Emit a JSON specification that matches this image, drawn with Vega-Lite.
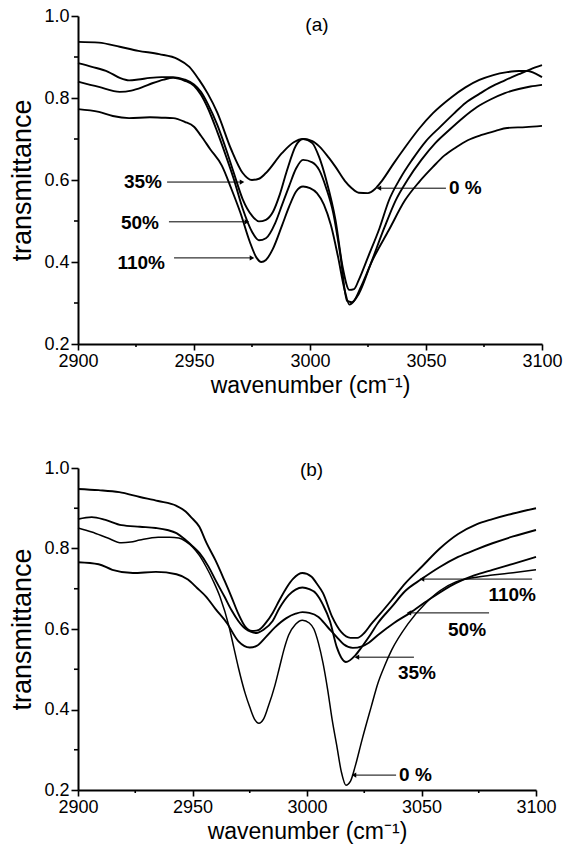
{
  "$schema": "https://vega.github.io/schema/vega-lite/v6.json",
  "padding": {"left": 8, "top": 6, "right": 5, "bottom": 5},
  "spacing": 60,
  "config": {
    "view": {"stroke": "transparent"},
    "font": "Liberation Sans",
    "axis": {"grid": false, "labelFlush": false, "domain": true, "ticks": true, "domainColor": "#000000", "tickColor": "#000000", "domainWidth": 2, "tickWidth": 1.6, "labelColor": "black", "labelFont": "Liberation Sans", "labelFontSize": 18, "titleColor": "black", "titleFont": "Liberation Sans", "titleFontWeight": "normal", "labelOverlap": false, "labelPadding": 2}
  },
  "datasets": {
    "a_lines": [
      {"s":"0%","x":2900,"y":0.937},{"s":"0%","x":2909,"y":0.935},{"s":"0%","x":2918,"y":0.925},{"s":"0%","x":2926,"y":0.915},{"s":"0%","x":2935,"y":0.907},{"s":"0%","x":2943,"y":0.895},{"s":"0%","x":2948,"y":0.876},{"s":"0%","x":2952,"y":0.846},{"s":"0%","x":2956,"y":0.81},{"s":"0%","x":2960,"y":0.765},{"s":"0%","x":2966,"y":0.675},{"s":"0%","x":2971,"y":0.617},{"s":"0%","x":2975,"y":0.6},{"s":"0%","x":2978,"y":0.603},{"s":"0%","x":2981,"y":0.617},{"s":"0%","x":2988,"y":0.666},{"s":"0%","x":2993,"y":0.692},{"s":"0%","x":2997,"y":0.7},{"s":"0%","x":3001,"y":0.695},{"s":"0%","x":3004,"y":0.682},{"s":"0%","x":3008,"y":0.655},{"s":"0%","x":3011,"y":0.632},{"s":"0%","x":3015,"y":0.598},{"s":"0%","x":3018,"y":0.58},{"s":"0%","x":3021,"y":0.569},{"s":"0%","x":3025,"y":0.568},{"s":"0%","x":3028,"y":0.578},{"s":"0%","x":3031,"y":0.598},{"s":"0%","x":3036,"y":0.64},{"s":"0%","x":3041,"y":0.68},{"s":"0%","x":3047,"y":0.725},{"s":"0%","x":3053,"y":0.763},{"s":"0%","x":3061,"y":0.802},{"s":"0%","x":3067,"y":0.826},{"s":"0%","x":3073,"y":0.844},{"s":"0%","x":3079,"y":0.856},{"s":"0%","x":3085,"y":0.863},{"s":"0%","x":3090,"y":0.866},{"s":"0%","x":3094,"y":0.866},{"s":"0%","x":3097,"y":0.86},{"s":"0%","x":3100,"y":0.851},
      {"s":"35%","x":2900,"y":0.885},{"s":"35%","x":2906,"y":0.876},{"s":"35%","x":2913,"y":0.864},{"s":"35%","x":2918,"y":0.849},{"s":"35%","x":2922,"y":0.843},{"s":"35%","x":2926,"y":0.845},{"s":"35%","x":2931,"y":0.849},{"s":"35%","x":2936,"y":0.851},{"s":"35%","x":2941,"y":0.851},{"s":"35%","x":2946,"y":0.845},{"s":"35%","x":2950,"y":0.833},{"s":"35%","x":2953,"y":0.815},{"s":"35%","x":2956,"y":0.785},{"s":"35%","x":2960,"y":0.735},{"s":"35%","x":2964,"y":0.672},{"s":"35%","x":2967,"y":0.62},{"s":"35%","x":2971,"y":0.553},{"s":"35%","x":2975,"y":0.513},{"s":"35%","x":2978,"y":0.499},{"s":"35%","x":2981,"y":0.503},{"s":"35%","x":2984,"y":0.522},{"s":"35%","x":2987,"y":0.565},{"s":"35%","x":2990,"y":0.622},{"s":"35%","x":2994,"y":0.685},{"s":"35%","x":2997,"y":0.7},{"s":"35%","x":3001,"y":0.69},{"s":"35%","x":3004,"y":0.655},{"s":"35%","x":3007,"y":0.6},{"s":"35%","x":3011,"y":0.502},{"s":"35%","x":3014,"y":0.39},{"s":"35%","x":3017,"y":0.332},{"s":"35%","x":3019,"y":0.334},{"s":"35%","x":3021,"y":0.356},{"s":"35%","x":3025,"y":0.412},{"s":"35%","x":3030,"y":0.483},{"s":"35%","x":3034,"y":0.55},{"s":"35%","x":3039,"y":0.605},{"s":"35%","x":3044,"y":0.649},{"s":"35%","x":3050,"y":0.695},{"s":"35%","x":3056,"y":0.729},{"s":"35%","x":3062,"y":0.762},{"s":"35%","x":3067,"y":0.788},{"s":"35%","x":3073,"y":0.81},{"s":"35%","x":3078,"y":0.827},{"s":"35%","x":3084,"y":0.843},{"s":"35%","x":3090,"y":0.858},{"s":"35%","x":3095,"y":0.87},{"s":"35%","x":3100,"y":0.88},
      {"s":"50%","x":2900,"y":0.84},{"s":"50%","x":2909,"y":0.827},{"s":"50%","x":2918,"y":0.815},{"s":"50%","x":2923,"y":0.818},{"s":"50%","x":2928,"y":0.827},{"s":"50%","x":2932,"y":0.836},{"s":"50%","x":2937,"y":0.845},{"s":"50%","x":2941,"y":0.849},{"s":"50%","x":2946,"y":0.842},{"s":"50%","x":2950,"y":0.83},{"s":"50%","x":2953,"y":0.808},{"s":"50%","x":2956,"y":0.775},{"s":"50%","x":2960,"y":0.718},{"s":"50%","x":2964,"y":0.655},{"s":"50%","x":2967,"y":0.605},{"s":"50%","x":2971,"y":0.53},{"s":"50%","x":2975,"y":0.474},{"s":"50%","x":2978,"y":0.453},{"s":"50%","x":2981,"y":0.458},{"s":"50%","x":2985,"y":0.495},{"s":"50%","x":2988,"y":0.54},{"s":"50%","x":2991,"y":0.585},{"s":"50%","x":2994,"y":0.628},{"s":"50%","x":2997,"y":0.649},{"s":"50%","x":3001,"y":0.643},{"s":"50%","x":3004,"y":0.624},{"s":"50%","x":3007,"y":0.58},{"s":"50%","x":3010,"y":0.52},{"s":"50%","x":3013,"y":0.42},{"s":"50%","x":3016,"y":0.305},{"s":"50%","x":3018,"y":0.302},{"s":"50%","x":3021,"y":0.322},{"s":"50%","x":3026,"y":0.393},{"s":"50%","x":3032,"y":0.483},{"s":"50%","x":3037,"y":0.551},{"s":"50%","x":3042,"y":0.6},{"s":"50%","x":3048,"y":0.649},{"s":"50%","x":3054,"y":0.69},{"s":"50%","x":3060,"y":0.722},{"s":"50%","x":3066,"y":0.752},{"s":"50%","x":3072,"y":0.778},{"s":"50%","x":3078,"y":0.797},{"s":"50%","x":3084,"y":0.812},{"s":"50%","x":3090,"y":0.822},{"s":"50%","x":3095,"y":0.828},{"s":"50%","x":3100,"y":0.832},
      {"s":"110%","x":2900,"y":0.773},{"s":"110%","x":2909,"y":0.766},{"s":"110%","x":2915,"y":0.756},{"s":"110%","x":2922,"y":0.751},{"s":"110%","x":2931,"y":0.753},{"s":"110%","x":2936,"y":0.752},{"s":"110%","x":2941,"y":0.751},{"s":"110%","x":2946,"y":0.742},{"s":"110%","x":2950,"y":0.73},{"s":"110%","x":2953,"y":0.708},{"s":"110%","x":2957,"y":0.675},{"s":"110%","x":2962,"y":0.635},{"s":"110%","x":2966,"y":0.58},{"s":"110%","x":2970,"y":0.52},{"s":"110%","x":2974,"y":0.45},{"s":"110%","x":2977,"y":0.41},{"s":"110%","x":2979,"y":0.4},{"s":"110%","x":2981,"y":0.405},{"s":"110%","x":2984,"y":0.432},{"s":"110%","x":2988,"y":0.49},{"s":"110%","x":2991,"y":0.535},{"s":"110%","x":2994,"y":0.572},{"s":"110%","x":2997,"y":0.584},{"s":"110%","x":3000,"y":0.58},{"s":"110%","x":3003,"y":0.568},{"s":"110%","x":3006,"y":0.54},{"s":"110%","x":3009,"y":0.49},{"s":"110%","x":3012,"y":0.415},{"s":"110%","x":3015,"y":0.33},{"s":"110%","x":3017,"y":0.296},{"s":"110%","x":3019,"y":0.305},{"s":"110%","x":3022,"y":0.34},{"s":"110%","x":3027,"y":0.405},{"s":"110%","x":3034,"y":0.478},{"s":"110%","x":3041,"y":0.551},{"s":"110%","x":3047,"y":0.595},{"s":"110%","x":3053,"y":0.632},{"s":"110%","x":3058,"y":0.66},{"s":"110%","x":3063,"y":0.68},{"s":"110%","x":3068,"y":0.697},{"s":"110%","x":3074,"y":0.71},{"s":"110%","x":3080,"y":0.72},{"s":"110%","x":3085,"y":0.727},{"s":"110%","x":3093,"y":0.729},{"s":"110%","x":3100,"y":0.732}
    ],
    "b_lines": [
      {"s":"110%","x":2900,"y":0.948},{"s":"110%","x":2909,"y":0.945},{"s":"110%","x":2918,"y":0.94},{"s":"110%","x":2927,"y":0.928},{"s":"110%","x":2935,"y":0.918},{"s":"110%","x":2943,"y":0.906},{"s":"110%","x":2947,"y":0.892},{"s":"110%","x":2950,"y":0.874},{"s":"110%","x":2953,"y":0.854},{"s":"110%","x":2956,"y":0.815},{"s":"110%","x":2960,"y":0.771},{"s":"110%","x":2964,"y":0.72},{"s":"110%","x":2967,"y":0.68},{"s":"110%","x":2970,"y":0.638},{"s":"110%","x":2973,"y":0.606},{"s":"110%","x":2976,"y":0.595},{"s":"110%","x":2979,"y":0.598},{"s":"110%","x":2982,"y":0.615},{"s":"110%","x":2985,"y":0.64},{"s":"110%","x":2988,"y":0.672},{"s":"110%","x":2991,"y":0.702},{"s":"110%","x":2994,"y":0.725},{"s":"110%","x":2998,"y":0.739},{"s":"110%","x":3002,"y":0.73},{"s":"110%","x":3004,"y":0.715},{"s":"110%","x":3007,"y":0.689},{"s":"110%","x":3011,"y":0.63},{"s":"110%","x":3015,"y":0.592},{"s":"110%","x":3019,"y":0.578},{"s":"110%","x":3022,"y":0.578},{"s":"110%","x":3025,"y":0.59},{"s":"110%","x":3028,"y":0.612},{"s":"110%","x":3032,"y":0.638},{"s":"110%","x":3037,"y":0.672},{"s":"110%","x":3043,"y":0.714},{"s":"110%","x":3050,"y":0.754},{"s":"110%","x":3058,"y":0.8},{"s":"110%","x":3066,"y":0.836},{"s":"110%","x":3074,"y":0.86},{"s":"110%","x":3081,"y":0.873},{"s":"110%","x":3090,"y":0.887},{"s":"110%","x":3100,"y":0.9},
      {"s":"35%","x":2900,"y":0.873},{"s":"35%","x":2906,"y":0.878},{"s":"35%","x":2912,"y":0.871},{"s":"35%","x":2919,"y":0.858},{"s":"35%","x":2927,"y":0.854},{"s":"35%","x":2934,"y":0.851},{"s":"35%","x":2939,"y":0.846},{"s":"35%","x":2943,"y":0.838},{"s":"35%","x":2947,"y":0.821},{"s":"35%","x":2950,"y":0.806},{"s":"35%","x":2953,"y":0.789},{"s":"35%","x":2957,"y":0.755},{"s":"35%","x":2960,"y":0.722},{"s":"35%","x":2964,"y":0.68},{"s":"35%","x":2967,"y":0.647},{"s":"35%","x":2970,"y":0.62},{"s":"35%","x":2973,"y":0.601},{"s":"35%","x":2978,"y":0.59},{"s":"35%","x":2981,"y":0.598},{"s":"35%","x":2985,"y":0.62},{"s":"35%","x":2988,"y":0.652},{"s":"35%","x":2992,"y":0.684},{"s":"35%","x":2995,"y":0.698},{"s":"35%","x":2998,"y":0.703},{"s":"35%","x":3001,"y":0.699},{"s":"35%","x":3004,"y":0.688},{"s":"35%","x":3007,"y":0.66},{"s":"35%","x":3010,"y":0.62},{"s":"35%","x":3013,"y":0.555},{"s":"35%","x":3017,"y":0.518},{"s":"35%","x":3021,"y":0.534},{"s":"35%","x":3024,"y":0.556},{"s":"35%","x":3027,"y":0.58},{"s":"35%","x":3031,"y":0.615},{"s":"35%","x":3037,"y":0.655},{"s":"35%","x":3043,"y":0.695},{"s":"35%","x":3050,"y":0.724},{"s":"35%","x":3058,"y":0.754},{"s":"35%","x":3066,"y":0.779},{"s":"35%","x":3074,"y":0.798},{"s":"35%","x":3081,"y":0.813},{"s":"35%","x":3090,"y":0.83},{"s":"35%","x":3100,"y":0.846},
      {"s":"50%","x":2900,"y":0.766},{"s":"50%","x":2909,"y":0.761},{"s":"50%","x":2915,"y":0.747},{"s":"50%","x":2924,"y":0.739},{"s":"50%","x":2934,"y":0.742},{"s":"50%","x":2943,"y":0.736},{"s":"50%","x":2948,"y":0.723},{"s":"50%","x":2952,"y":0.702},{"s":"50%","x":2956,"y":0.68},{"s":"50%","x":2960,"y":0.65},{"s":"50%","x":2965,"y":0.615},{"s":"50%","x":2970,"y":0.57},{"s":"50%","x":2975,"y":0.554},{"s":"50%","x":2978,"y":0.558},{"s":"50%","x":2982,"y":0.58},{"s":"50%","x":2986,"y":0.604},{"s":"50%","x":2991,"y":0.627},{"s":"50%","x":2995,"y":0.638},{"s":"50%","x":2998,"y":0.642},{"s":"50%","x":3001,"y":0.64},{"s":"50%","x":3005,"y":0.63},{"s":"50%","x":3009,"y":0.605},{"s":"50%","x":3013,"y":0.58},{"s":"50%","x":3016,"y":0.562},{"s":"50%","x":3020,"y":0.553},{"s":"50%","x":3024,"y":0.557},{"s":"50%","x":3027,"y":0.566},{"s":"50%","x":3031,"y":0.585},{"s":"50%","x":3038,"y":0.615},{"s":"50%","x":3045,"y":0.64},{"s":"50%","x":3053,"y":0.672},{"s":"50%","x":3065,"y":0.714},{"s":"50%","x":3073,"y":0.733},{"s":"50%","x":3081,"y":0.747},{"s":"50%","x":3090,"y":0.762},{"s":"50%","x":3100,"y":0.779},
      {"s":"0%","x":2900,"y":0.851},{"s":"0%","x":2906,"y":0.841},{"s":"0%","x":2913,"y":0.826},{"s":"0%","x":2919,"y":0.814},{"s":"0%","x":2923,"y":0.816},{"s":"0%","x":2927,"y":0.821},{"s":"0%","x":2935,"y":0.828},{"s":"0%","x":2940,"y":0.828},{"s":"0%","x":2944,"y":0.826},{"s":"0%","x":2947,"y":0.818},{"s":"0%","x":2950,"y":0.804},{"s":"0%","x":2953,"y":0.783},{"s":"0%","x":2956,"y":0.754},{"s":"0%","x":2959,"y":0.72},{"s":"0%","x":2962,"y":0.68},{"s":"0%","x":2966,"y":0.605},{"s":"0%","x":2968,"y":0.555},{"s":"0%","x":2970,"y":0.505},{"s":"0%","x":2973,"y":0.44},{"s":"0%","x":2975,"y":0.406},{"s":"0%","x":2977,"y":0.377},{"s":"0%","x":2979,"y":0.366},{"s":"0%","x":2981,"y":0.376},{"s":"0%","x":2983,"y":0.406},{"s":"0%","x":2986,"y":0.46},{"s":"0%","x":2988,"y":0.505},{"s":"0%","x":2990,"y":0.55},{"s":"0%","x":2992,"y":0.585},{"s":"0%","x":2995,"y":0.612},{"s":"0%","x":2998,"y":0.622},{"s":"0%","x":3001,"y":0.615},{"s":"0%","x":3003,"y":0.6},{"s":"0%","x":3005,"y":0.565},{"s":"0%","x":3007,"y":0.515},{"s":"0%","x":3009,"y":0.45},{"s":"0%","x":3011,"y":0.374},{"s":"0%","x":3013,"y":0.31},{"s":"0%","x":3015,"y":0.245},{"s":"0%","x":3017,"y":0.212},{"s":"0%","x":3019,"y":0.222},{"s":"0%","x":3021,"y":0.258},{"s":"0%","x":3024,"y":0.324},{"s":"0%","x":3028,"y":0.406},{"s":"0%","x":3031,"y":0.466},{"s":"0%","x":3034,"y":0.51},{"s":"0%","x":3037,"y":0.548},{"s":"0%","x":3044,"y":0.612},{"s":"0%","x":3052,"y":0.665},{"s":"0%","x":3058,"y":0.695},{"s":"0%","x":3065,"y":0.717},{"s":"0%","x":3073,"y":0.728},{"s":"0%","x":3081,"y":0.734},{"s":"0%","x":3090,"y":0.74},{"s":"0%","x":3100,"y":0.747}
    ],
    "xminor": [{"x":2925,"y":0.2},{"x":2975,"y":0.2},{"x":3025,"y":0.2},{"x":3075,"y":0.2}],
    "yminor": [{"x":2900,"y":0.3},{"x":2900,"y":0.5},{"x":2900,"y":0.7},{"x":2900,"y":0.9}],
    "a_text_r": [{"t":"35%","x":2936.2,"y":0.595},{"t":"50%","x":2934.9,"y":0.495},{"t":"110%","x":2937.5,"y":0.398}],
    "a_text_l": [{"t":"0 %","x":3059.9,"y":0.58}],
    "a_arrows": [{"x":2938.4,"x2":2970.7,"y":0.595,"dir":"right"},{"x":2939.2,"x2":2972.8,"y":0.498,"dir":"right"},{"x":2941.4,"x2":2975,"y":0.41,"dir":"right"},{"x":3058.6,"x2":3029.7,"y":0.58,"dir":"left"}],
    "a_title": [{"t":"(a)","x":3003,"y":0.978}],
    "b_text_r": [{"t":"110%","x":3100,"y":0.684},{"t":"50%","x":3078.2,"y":0.598},{"t":"35%","x":3056.3,"y":0.491}],
    "b_text_l": [{"t":"0 %","x":3040.2,"y":0.237}],
    "b_arrows": [{"x":3098.3,"x2":3050.2,"y":0.724,"dir":"left"},{"x":3079.5,"x2":3044.5,"y":0.64,"dir":"left"},{"x":3046.7,"x2":3021.8,"y":0.53,"dir":"left"},{"x":3038.9,"x2":3020.5,"y":0.237,"dir":"left"}],
    "b_title": [{"t":"(b)","x":3002,"y":0.995}]
  },
  "vconcat": [
    {
      "width": 464,
      "height": 328,
      "encoding": {
        "x": {"field": "x", "type": "quantitative", "scale": {"domain": [2900, 3100], "nice": false, "zero": false},
          "axis": {"values": [2900,2950,3000,3050,3100], "format": "d", "tickSize": 6, "title": "wavenumber (cm⁻¹)", "titleFontSize": 23, "titlePadding": 4}},
        "y": {"field": "y", "type": "quantitative", "scale": {"domain": [0.2, 1.0], "nice": false, "zero": false},
          "axis": {"values": [0.2,0.4,0.6,0.8,1.0], "format": ".1f", "tickSize": 7, "title": "transmittance", "titleFontSize": 27, "titlePadding": 7}}
      },
      "layer": [
        {"data": {"name": "a_lines"}, "mark": {"type": "line", "color": "#000", "strokeWidth": 1.9, "interpolate": "monotone"}, "encoding": {"detail": {"field": "s"}}},
        {"data": {"name": "xminor"}, "mark": {"type": "point", "shape": "M0,0L0,1", "filled": false, "color": "#000", "strokeWidth": 1.6, "size": 36, "opacity": 1}},
        {"data": {"name": "yminor"}, "mark": {"type": "point", "shape": "M0,0L-1,0", "filled": false, "color": "#000", "strokeWidth": 1.6, "size": 64, "opacity": 1}},
        {"data": {"name": "a_arrows"}, "mark": {"type": "rule", "color": "#000", "strokeWidth": 1}, "encoding": {"x2": {"field": "x2"}}},
        {"data": {"name": "a_arrows"}, "mark": {"type": "point", "filled": true, "color": "#000", "size": 28, "opacity": 1}, "encoding": {"x": {"field": "x2", "type": "quantitative"}, "shape": {"field": "dir", "type": "nominal", "scale": {"domain": ["right", "left"], "range": ["triangle-right", "triangle-left"]}, "legend": null}}},
        {"data": {"name": "a_text_r"}, "mark": {"type": "text", "align": "right", "baseline": "middle", "fontSize": 19, "fontWeight": "bold", "color": "#000"}, "encoding": {"text": {"field": "t"}}},
        {"data": {"name": "a_text_l"}, "mark": {"type": "text", "align": "left", "baseline": "middle", "fontSize": 19, "fontWeight": "bold", "color": "#000"}, "encoding": {"text": {"field": "t"}}},
        {"data": {"name": "a_title"}, "mark": {"type": "text", "align": "center", "baseline": "middle", "fontSize": 19, "color": "#000"}, "encoding": {"text": {"field": "t"}}}
      ]
    },
    {
      "width": 458,
      "height": 322,
      "encoding": {
        "x": {"field": "x", "type": "quantitative", "scale": {"domain": [2900, 3100], "nice": false, "zero": false},
          "axis": {"values": [2900,2950,3000,3050,3100], "format": "d", "tickSize": 6, "title": "wavenumber (cm⁻¹)", "titleFontSize": 23, "titlePadding": 4}},
        "y": {"field": "y", "type": "quantitative", "scale": {"domain": [0.2, 1.0], "nice": false, "zero": false},
          "axis": {"values": [0.2,0.4,0.6,0.8,1.0], "format": ".1f", "tickSize": 7, "title": "transmittance", "titleFontSize": 27, "titlePadding": 7}}
      },
      "layer": [
        {"data": {"name": "b_lines"}, "transform": [{"filter": "datum.s !== '0%'"}], "mark": {"type": "line", "color": "#000", "strokeWidth": 1.9, "interpolate": "monotone"}, "encoding": {"detail": {"field": "s"}}},
        {"data": {"name": "b_lines"}, "transform": [{"filter": "datum.s === '0%'"}], "mark": {"type": "line", "color": "#000", "strokeWidth": 1.5, "interpolate": "monotone"}, "encoding": {"detail": {"field": "s"}}},
        {"data": {"name": "xminor"}, "mark": {"type": "point", "shape": "M0,0L0,1", "filled": false, "color": "#000", "strokeWidth": 1.6, "size": 36, "opacity": 1}},
        {"data": {"name": "yminor"}, "mark": {"type": "point", "shape": "M0,0L-1,0", "filled": false, "color": "#000", "strokeWidth": 1.6, "size": 64, "opacity": 1}},
        {"data": {"name": "b_arrows"}, "mark": {"type": "rule", "color": "#000", "strokeWidth": 1}, "encoding": {"x2": {"field": "x2"}}},
        {"data": {"name": "b_arrows"}, "mark": {"type": "point", "filled": true, "color": "#000", "size": 28, "opacity": 1}, "encoding": {"x": {"field": "x2", "type": "quantitative"}, "shape": {"field": "dir", "type": "nominal", "scale": {"domain": ["right", "left"], "range": ["triangle-right", "triangle-left"]}, "legend": null}}},
        {"data": {"name": "b_text_r"}, "mark": {"type": "text", "align": "right", "baseline": "middle", "fontSize": 19, "fontWeight": "bold", "color": "#000"}, "encoding": {"text": {"field": "t"}}},
        {"data": {"name": "b_text_l"}, "mark": {"type": "text", "align": "left", "baseline": "middle", "fontSize": 19, "fontWeight": "bold", "color": "#000"}, "encoding": {"text": {"field": "t"}}},
        {"data": {"name": "b_title"}, "mark": {"type": "text", "align": "center", "baseline": "middle", "fontSize": 19, "color": "#000"}, "encoding": {"text": {"field": "t"}}}
      ]
    }
  ]
}
